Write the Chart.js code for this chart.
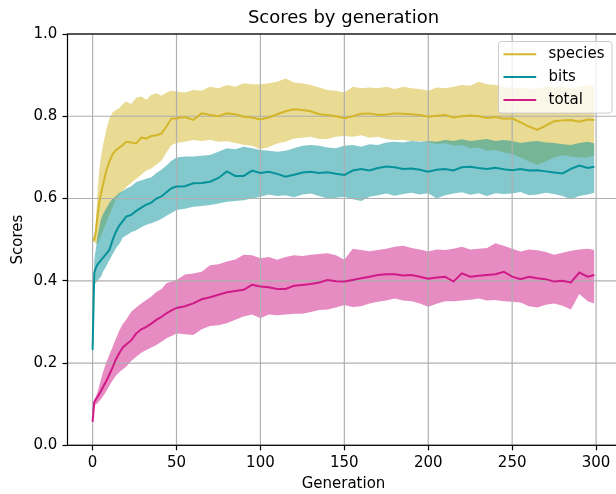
<!DOCTYPE html>
<html>
<head>
<meta charset="utf-8">
<script src="https://cdn.jsdelivr.net/npm/chart.js@4.4.1/dist/chart.umd.min.js"></script>
<style>
  html, body { margin: 0; padding: 0; background: #fff; }
  #wrap { width: 616px; height: 494px; overflow: hidden; }
</style>
</head>
<body>
<div id="wrap"><canvas id="scores" width="624" height="494"></canvas></div>
<script>
// generation sampled from the plot (denser at the start where it climbs fast)
const generations = [0, 1, 2, 3, 4, 5, 6,
  8, 10, 12, 14, 16, 18, 20,
  23, 26, 29, 32, 35, 38, 41, 44, 47,
  50, 55, 60, 65, 70, 75, 80, 85, 90, 95,
  100, 105, 110, 115, 120, 125, 130, 135, 140, 145,
  150, 155, 160, 165, 170, 175, 180, 185, 190, 195,
  200, 205, 210, 215, 220, 225, 230, 235, 240, 245,
  250, 255, 260, 265, 270, 275, 280, 285, 290, 295, 299];

const speciesMean = [0.500, 0.500, 0.520, 0.560, 0.590, 0.612, 0.630,
  0.665, 0.690, 0.708, 0.718, 0.724, 0.730, 0.738,
  0.736, 0.734, 0.748, 0.746, 0.752, 0.754, 0.758, 0.775, 0.794,
  0.795, 0.798, 0.791, 0.807, 0.803, 0.800, 0.807, 0.805, 0.799, 0.797,
  0.792, 0.797, 0.805, 0.812, 0.817, 0.815, 0.812, 0.805, 0.803, 0.800,
  0.795, 0.800, 0.806, 0.807, 0.803, 0.804, 0.807, 0.806, 0.805, 0.803,
  0.799, 0.801, 0.803, 0.797, 0.800, 0.802, 0.800, 0.796, 0.798, 0.794,
  0.795, 0.785, 0.775, 0.767, 0.777, 0.788, 0.790, 0.791, 0.787, 0.792, 0.791];
const speciesUpper = [0.505, 0.510, 0.550, 0.620, 0.670, 0.700, 0.725,
  0.765, 0.795, 0.810, 0.815, 0.820, 0.830, 0.836,
  0.830, 0.845, 0.848, 0.840, 0.852, 0.856, 0.850, 0.858, 0.862,
  0.860, 0.858, 0.864, 0.862, 0.872, 0.868, 0.876, 0.872, 0.880, 0.878,
  0.878, 0.880, 0.884, 0.892, 0.882, 0.880, 0.876, 0.870, 0.864, 0.862,
  0.858, 0.872, 0.868, 0.870, 0.868, 0.872, 0.866, 0.872, 0.868, 0.866,
  0.862, 0.870, 0.868, 0.872, 0.876, 0.874, 0.884, 0.878, 0.876, 0.872,
  0.868, 0.870, 0.866, 0.868, 0.872, 0.870, 0.872, 0.868, 0.872, 0.876, 0.874];
const speciesLower = [0.495, 0.495, 0.490, 0.490, 0.500, 0.510, 0.520,
  0.540, 0.560, 0.580, 0.600, 0.610, 0.618, 0.628,
  0.638, 0.648, 0.658, 0.668, 0.673, 0.683, 0.692, 0.712, 0.730,
  0.735, 0.738, 0.742, 0.740, 0.742, 0.738, 0.739, 0.735, 0.731, 0.728,
  0.720, 0.725, 0.734, 0.738, 0.746, 0.748, 0.750, 0.745, 0.745, 0.750,
  0.752, 0.750, 0.754, 0.748, 0.750, 0.745, 0.742, 0.742, 0.740, 0.740,
  0.738, 0.732, 0.735, 0.728, 0.730, 0.722, 0.724, 0.716, 0.718, 0.712,
  0.708, 0.700, 0.690, 0.682, 0.690, 0.700, 0.705, 0.702, 0.700, 0.700, 0.705];

const bitsMean = [0.232, 0.420, 0.432, 0.440, 0.445, 0.450, 0.455,
  0.465, 0.475, 0.500, 0.520, 0.535, 0.545, 0.556,
  0.560, 0.570, 0.578, 0.585, 0.590, 0.600, 0.605, 0.615, 0.625,
  0.629, 0.630, 0.637, 0.638, 0.641, 0.650, 0.666, 0.655, 0.655, 0.668,
  0.662, 0.665, 0.660, 0.653, 0.658, 0.663, 0.665, 0.662, 0.664, 0.660,
  0.657, 0.668, 0.672, 0.668, 0.674, 0.678, 0.676, 0.672, 0.673, 0.670,
  0.665, 0.670, 0.672, 0.668, 0.676, 0.677, 0.674, 0.672, 0.675, 0.671,
  0.669, 0.672, 0.668, 0.669, 0.666, 0.663, 0.661, 0.672, 0.680, 0.674, 0.677];
const bitsUpper = [0.232, 0.450, 0.480, 0.510, 0.530, 0.550, 0.560,
  0.575, 0.590, 0.600, 0.606, 0.614, 0.618, 0.624,
  0.630, 0.640, 0.644, 0.648, 0.652, 0.662, 0.670, 0.680, 0.692,
  0.700, 0.702, 0.702, 0.704, 0.706, 0.714, 0.722, 0.720, 0.726, 0.722,
  0.718, 0.716, 0.714, 0.716, 0.722, 0.728, 0.730, 0.728, 0.724, 0.722,
  0.728, 0.730, 0.726, 0.732, 0.730, 0.736, 0.738, 0.736, 0.740, 0.738,
  0.740, 0.738, 0.742, 0.740, 0.744, 0.740, 0.742, 0.745, 0.740, 0.742,
  0.740, 0.735, 0.738, 0.740, 0.736, 0.735, 0.732, 0.730, 0.735, 0.738, 0.734];
const bitsLower = [0.232, 0.390, 0.395, 0.400, 0.405, 0.410, 0.420,
  0.435, 0.450, 0.465, 0.480, 0.490, 0.505, 0.510,
  0.518, 0.523, 0.530, 0.536, 0.540, 0.545, 0.550, 0.558, 0.565,
  0.572, 0.575, 0.580, 0.582, 0.584, 0.588, 0.592, 0.594, 0.596, 0.600,
  0.604, 0.610, 0.606, 0.608, 0.603, 0.610, 0.612, 0.606, 0.600, 0.602,
  0.604, 0.598, 0.594, 0.604, 0.608, 0.612, 0.607, 0.611, 0.614, 0.610,
  0.613, 0.600, 0.608, 0.612, 0.615, 0.609, 0.613, 0.606, 0.613, 0.611,
  0.612, 0.616, 0.608, 0.610, 0.614, 0.611, 0.606, 0.598, 0.606, 0.610, 0.614];

const totalMean = [0.057, 0.105, 0.112, 0.118, 0.125, 0.132, 0.140,
  0.155, 0.172, 0.190, 0.210, 0.225, 0.238, 0.245,
  0.255, 0.272, 0.282, 0.288, 0.296, 0.305, 0.312, 0.321, 0.328,
  0.334, 0.338, 0.345, 0.355, 0.360, 0.366, 0.372, 0.375, 0.378, 0.390,
  0.386, 0.384, 0.380, 0.380, 0.388, 0.390, 0.392, 0.396, 0.402, 0.399,
  0.398, 0.402, 0.406, 0.410, 0.414, 0.416, 0.416, 0.413, 0.414, 0.410,
  0.405, 0.408, 0.410, 0.398, 0.418, 0.410, 0.412, 0.414, 0.416, 0.422,
  0.410, 0.404, 0.410, 0.406, 0.404, 0.398, 0.400, 0.396, 0.420, 0.410, 0.414];
const totalUpper = [0.057, 0.110, 0.120, 0.130, 0.145, 0.160, 0.175,
  0.200, 0.220, 0.240, 0.260, 0.280, 0.295, 0.305,
  0.325, 0.335, 0.345, 0.353, 0.362, 0.373, 0.380, 0.394, 0.398,
  0.402, 0.415, 0.418, 0.422, 0.438, 0.440, 0.447, 0.452, 0.463, 0.462,
  0.455, 0.458, 0.451, 0.458, 0.462, 0.460, 0.463, 0.465, 0.467, 0.462,
  0.451, 0.478, 0.475, 0.472, 0.475, 0.478, 0.483, 0.485, 0.480, 0.476,
  0.471, 0.476, 0.475, 0.478, 0.483, 0.476, 0.478, 0.480, 0.491, 0.485,
  0.478, 0.471, 0.476, 0.474, 0.470, 0.463, 0.468, 0.473, 0.476, 0.478, 0.475];
const totalLower = [0.057, 0.095, 0.100, 0.102, 0.108, 0.112, 0.118,
  0.130, 0.145, 0.158, 0.170, 0.178, 0.185, 0.191,
  0.205, 0.215, 0.225, 0.232, 0.238, 0.244, 0.252, 0.260, 0.266,
  0.272, 0.270, 0.268, 0.282, 0.290, 0.292, 0.297, 0.305, 0.313, 0.318,
  0.309, 0.318, 0.316, 0.318, 0.320, 0.320, 0.324, 0.329, 0.330, 0.335,
  0.341, 0.336, 0.338, 0.345, 0.349, 0.352, 0.357, 0.352, 0.350, 0.345,
  0.337, 0.344, 0.350, 0.350, 0.352, 0.354, 0.357, 0.352, 0.353, 0.350,
  0.349, 0.347, 0.338, 0.335, 0.342, 0.345, 0.339, 0.330, 0.368, 0.350, 0.345];

const xTicks = [0, 50, 100, 150, 200, 250, 300];
const yTicks = [0.0, 0.2, 0.4, 0.6, 0.8, 1.0];

const FONT = 'DejaVu Sans';
const SPECIES_COLOR = '#d4b62a';
const BITS_COLOR = '#06929b';
const TOTAL_COLOR = '#d01a88';

Chart.defaults.color = '#000';
Chart.defaults.font.family = FONT;

const pts = arr => generations.map((g, i) => ({ x: g, y: arr[i] }));

const hexAlpha = (hex, a) => {
  const n = parseInt(hex.slice(1), 16);
  return `rgba(${(n >> 16) & 255}, ${(n >> 8) & 255}, ${n & 255}, ${a})`;
};

// upper edge fills down to the next dataset (the lower edge)
const band = (up, low, color, order) => [
  { band: true, data: pts(up), fill: '+1', backgroundColor: hexAlpha(color, 0.5),
    borderColor: 'transparent', borderWidth: 0, pointRadius: 0, order: order },
  { band: true, data: pts(low), fill: false, borderColor: 'transparent',
    borderWidth: 0, pointRadius: 0, order: order }
];

const meanLine = (label, arr, color, order) => ({
  label: label, data: pts(arr), borderColor: color, backgroundColor: color,
  borderWidth: 2, pointRadius: 0, tension: 0, fill: false, order: order
});

// matplotlib puts grid over the bands but under the lines
const gridPlugin = {
  id: 'gridBetween',
  beforeDatasetsDraw(chart) {
    const { ctx, chartArea: a, scales: { x, y } } = chart;
    ctx.save();
    ctx.strokeStyle = '#b0b0b0';
    ctx.lineWidth = 1.2;
    ctx.beginPath();
    xTicks.forEach(v => {
      const px = x.getPixelForValue(v);
      ctx.moveTo(px, a.top);
      ctx.lineTo(px, a.bottom);
    });
    yTicks.forEach(v => {
      const py = y.getPixelForValue(v);
      ctx.moveTo(a.left, py);
      ctx.lineTo(a.right, py);
    });
    ctx.stroke();
    ctx.restore();
  }
};

const framePlugin = {
  id: 'frameAndLegend',
  afterDraw(chart) {
    const { ctx, chartArea: a } = chart;
    ctx.save();
    ctx.strokeStyle = '#000';
    ctx.lineWidth = 1.2;
    ctx.strokeRect(a.left, a.top, a.right - a.left, a.bottom - a.top);

    // legend box in the upper right corner
    const items = chart.data.datasets.filter(d => !d.band);
    const bw = 113.5, bh = 71.6;
    const bx = a.right - 7.5 - bw, by = a.top + 7.5;
    ctx.beginPath();
    ctx.roundRect(bx, by, bw, bh, 3);
    ctx.fillStyle = 'rgba(255, 255, 255, 0.8)';
    ctx.fill();
    ctx.strokeStyle = '#cccccc';
    ctx.lineWidth = 1;
    ctx.stroke();
    ctx.font = `15px "${FONT}"`;
    ctx.textBaseline = 'middle';
    ctx.textAlign = 'left';
    items.forEach((d, i) => {
      const ry = by + 12.8 + i * 22.8;
      ctx.strokeStyle = d.borderColor;
      ctx.lineWidth = 2;
      ctx.beginPath();
      ctx.moveTo(bx + 5, ry);
      ctx.lineTo(bx + 37.7, ry);
      ctx.stroke();
      ctx.fillStyle = '#000';
      ctx.fillText(d.label, bx + 50, ry);
    });
    ctx.restore();
  }
};

new Chart(document.getElementById('scores'), {
  type: 'line',
  data: {
    datasets: [
      ...band(speciesUpper, speciesLower, SPECIES_COLOR, 9),
      ...band(bitsUpper, bitsLower, BITS_COLOR, 7),
      ...band(totalUpper, totalLower, TOTAL_COLOR, 5),
      meanLine('species', speciesMean, SPECIES_COLOR, 3),
      meanLine('bits', bitsMean, BITS_COLOR, 2),
      meanLine('total', totalMean, TOTAL_COLOR, 1)
    ]
  },
  options: {
    responsive: false,
    animation: false,
    layout: { padding: { left: 0, right: 4.5, top: 0, bottom: 0 } },
    scales: {
      x: {
        type: 'linear',
        min: -14.95,
        max: 313.95,
        afterBuildTicks: scale => { scale.ticks = xTicks.map(v => ({ value: v })); },
        afterFit: scale => { scale.height = 48.7; },
        ticks: { font: { size: 15 }, padding: 3.5, maxRotation: 0, callback: v => String(v) },
        grid: { drawOnChartArea: false, drawTicks: true, tickLength: 5, tickColor: '#000', tickWidth: 1.2 },
        border: { display: false },
        title: { display: true, text: 'Generation', font: { size: 15 }, padding: { top: 0, bottom: 1 } }
      },
      y: {
        min: 0,
        max: 1,
        afterBuildTicks: scale => { scale.ticks = yTicks.map(v => ({ value: v })); },
        afterFit: scale => { scale.width = 67.5; },
        ticks: { font: { size: 15 }, padding: 5.25, callback: v => v.toFixed(1) },
        grid: { drawOnChartArea: false, drawTicks: true, tickLength: 5, tickColor: '#000', tickWidth: 1.2 },
        border: { display: false },
        title: { display: true, text: 'Scores', font: { size: 15 }, padding: { top: 9, bottom: 0 } }
      }
    },
    plugins: {
      filler: { drawTime: 'beforeDatasetsDraw' },
      legend: { display: false },
      tooltip: { enabled: false },
      title: {
        display: true,
        text: 'Scores by generation',
        fullSize: false,
        color: '#000',
        font: { size: 18, weight: 'normal' },
        padding: { top: 8, bottom: 4.4 }
      }
    }
  },
  plugins: [gridPlugin, framePlugin]
});
</script>
</body>
</html>
